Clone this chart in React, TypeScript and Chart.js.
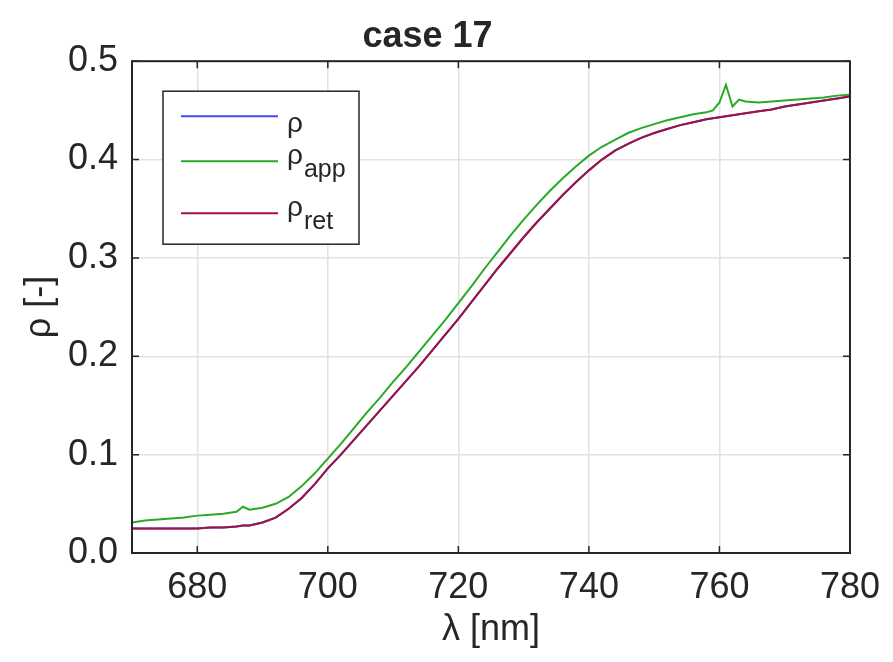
import React, { useEffect, useRef } from "react";
import { Chart, registerables } from "chart.js";

Chart.register(...registerables);

// ---------- data ----------
const wavelengths = [
  670, 672, 674, 676, 678, 680, 682, 684, 686, 687, 688, 690, 692, 694, 696, 698,
  700, 702, 704, 706, 708, 710, 712, 714, 716, 718, 720, 722, 724, 726, 728, 730,
  732, 734, 736, 738, 740, 742, 744, 746, 748, 750, 752, 754, 756, 758, 759, 760,
  761, 762, 763, 764, 766, 768, 770, 772, 774, 776, 778, 780,
];

const rhoApp = [
  0.031, 0.033, 0.034, 0.035, 0.036, 0.038, 0.039, 0.040, 0.042, 0.047, 0.044, 0.046, 0.050, 0.057, 0.068, 0.081,
  0.096, 0.111, 0.127, 0.143, 0.158, 0.174, 0.189, 0.205, 0.221, 0.237, 0.254, 0.271, 0.289, 0.306, 0.323, 0.339,
  0.354, 0.368, 0.381, 0.393, 0.404, 0.413, 0.420, 0.427, 0.432, 0.436, 0.440, 0.443, 0.446, 0.448, 0.450, 0.458,
  0.476, 0.454, 0.461, 0.459, 0.458, 0.459, 0.460, 0.461, 0.462, 0.463, 0.465, 0.466,
];

const rhoRet = [
  0.025, 0.025, 0.025, 0.025, 0.025, 0.025, 0.026, 0.026, 0.027, 0.028, 0.028, 0.031, 0.036, 0.045, 0.056, 0.070,
  0.086, 0.100, 0.115, 0.130, 0.145, 0.160, 0.175, 0.190, 0.206, 0.222, 0.238, 0.255, 0.272, 0.289, 0.305, 0.321,
  0.336, 0.350, 0.364, 0.377, 0.389, 0.400, 0.409, 0.416, 0.422, 0.427, 0.431, 0.435, 0.438, 0.441, 0.442, 0.443,
  0.444, 0.445, 0.446, 0.447, 0.449, 0.451, 0.454, 0.456, 0.458, 0.460, 0.462, 0.464,
];

const rho = [
  0.025, 0.025, 0.025, 0.025, 0.025, 0.025, 0.026, 0.026, 0.027, 0.028, 0.028, 0.031, 0.036, 0.045, 0.056, 0.070,
  0.086, 0.100, 0.115, 0.130, 0.145, 0.160, 0.175, 0.190, 0.206, 0.222, 0.238, 0.255, 0.272, 0.289, 0.305, 0.321,
  0.336, 0.350, 0.364, 0.377, 0.389, 0.400, 0.409, 0.416, 0.422, 0.427, 0.431, 0.435, 0.438, 0.441, 0.442, 0.443,
  0.444, 0.445, 0.446, 0.447, 0.449, 0.451, 0.454, 0.456, 0.458, 0.460, 0.462, 0.464,
];

const xTicks = [680, 700, 720, 740, 760, 780];
const yTicks = [0, 0.1, 0.2, 0.3, 0.4, 0.5];

const titleText = "case 17";
const xLabel = "λ [nm]";
const yLabel = "ρ [-]";
const legendMain = ["ρ", "ρ", "ρ"];
const legendSub = ["", "app", "ret"];

// ---------- styles ----------
const FONT = "'Liberation Sans', Arial, Helvetica, sans-serif";
const AX = "#262626";
const GRID = "#e2e2e2";
const COLORS = ["rgb(70,70,255)", "rgb(40,170,40)", "rgb(160,20,60)"];

const boxPlugin = {
  id: "matlabBox",
  afterDatasetsDraw(chart: any) {
    const { ctx, chartArea } = chart;
    const { left, right, top, bottom } = chartArea;
    const xs = chart.scales.x;
    const ys = chart.scales.y;
    const tl = 7;
    ctx.save();
    ctx.strokeStyle = AX;
    ctx.lineWidth = 1.5;
    ctx.beginPath();
    for (const v of xTicks) {
      const px = xs.getPixelForValue(v);
      ctx.moveTo(px, bottom);
      ctx.lineTo(px, bottom - tl);
      ctx.moveTo(px, top);
      ctx.lineTo(px, top + tl);
    }
    for (const v of yTicks) {
      const py = ys.getPixelForValue(v);
      ctx.moveTo(left, py);
      ctx.lineTo(left + tl, py);
      ctx.moveTo(right, py);
      ctx.lineTo(right - tl, py);
    }
    ctx.stroke();
    ctx.lineWidth = 2;
    ctx.strokeRect(left, top, right - left, bottom - top);
    ctx.restore();
  },
};

const legendPlugin = {
  id: "matlabLegend",
  afterDraw(chart: any) {
    const { ctx, chartArea } = chart;
    const bx = chartArea.left + 31;
    const by = chartArea.top + 30;
    const bw = 196;
    const bh = 153;
    ctx.save();
    ctx.fillStyle = "#ffffff";
    ctx.fillRect(bx, by, bw, bh);
    ctx.strokeStyle = AX;
    ctx.lineWidth = 1.5;
    ctx.strokeRect(bx, by, bw, bh);
    const lineYs = [by + 25, by + 70, by + 122];
    chart.data.datasets.forEach((ds: any, i: number) => {
      const ly = lineYs[i];
      ctx.strokeStyle = ds.borderColor;
      ctx.lineWidth = 2;
      ctx.beginPath();
      ctx.moveTo(bx + 18, ly);
      ctx.lineTo(bx + 115, ly);
      ctx.stroke();
      ctx.fillStyle = AX;
      ctx.textAlign = "left";
      ctx.textBaseline = "alphabetic";
      ctx.font = `28px ${FONT}`;
      const tx = bx + 124;
      const sub = legendSub[i];
      const base = sub ? ly + 3 : ly + 16;
      ctx.fillText(legendMain[i], tx, base);
      if (sub) {
        const w = ctx.measureText(legendMain[i]).width;
        ctx.font = `25px ${FONT}`;
        ctx.fillText(sub, tx + w + 1, base + 13);
      }
    });
    ctx.restore();
  },
};

export default function App() {
  const ref = useRef<HTMLCanvasElement | null>(null);
  useEffect(() => {
    if (!ref.current) return;
    const mk = (vals: number[]) => wavelengths.map((x, i) => ({ x, y: vals[i] }));
    const chart = new Chart(ref.current, {
      type: "line",
      data: {
        datasets: [
          { label: "ρ", data: mk(rho), borderColor: COLORS[0], borderWidth: 2, pointRadius: 0, tension: 0, order: 3 },
          { label: "ρapp", data: mk(rhoApp), borderColor: COLORS[1], borderWidth: 2, pointRadius: 0, tension: 0, order: 2 },
          { label: "ρret", data: mk(rhoRet), borderColor: COLORS[2], borderWidth: 2, pointRadius: 0, tension: 0, order: 1 },
        ],
      },
      options: {
        animation: false,
        responsive: false,
        devicePixelRatio: 1,
        layout: { padding: { left: 0, right: 38, top: 0, bottom: 0 } },
        plugins: {
          legend: { display: false },
          tooltip: { enabled: false },
          title: {
            display: true,
            text: titleText,
            color: AX,
            font: { family: FONT, size: 36, weight: "bold" },
            padding: { top: 15, bottom: 3 },
          },
        },
        scales: {
          x: {
            type: "linear",
            min: 670,
            max: 780,
            afterBuildTicks: (s: any) => {
              s.ticks = xTicks.map((v) => ({ value: v }));
            },
            afterFit: (s: any) => {
              s.height = 109;
            },
            grid: { color: GRID, lineWidth: 1.5, drawTicks: false },
            border: { display: false },
            ticks: {
              padding: 13,
              color: AX,
              font: { family: FONT, size: 36 },
              maxRotation: 0,
              autoSkip: false,
              callback: (v: any) => String(v),
            },
            title: {
              display: true,
              text: xLabel,
              color: AX,
              font: { family: FONT, size: 36 },
              padding: { top: 0, bottom: 10 },
            },
          },
          y: {
            type: "linear",
            min: 0,
            max: 0.5,
            afterBuildTicks: (s: any) => {
              s.ticks = yTicks.map((v) => ({ value: v }));
            },
            afterFit: (s: any) => {
              s.width = 132;
            },
            grid: { color: GRID, lineWidth: 1.5, drawTicks: false },
            border: { display: false },
            ticks: {
              padding: 14,
              color: AX,
              font: { family: FONT, size: 36 },
              callback: (v: any) => Number(v).toFixed(1),
            },
            title: {
              display: true,
              text: yLabel,
              color: AX,
              font: { family: FONT, size: 36 },
              padding: { top: 18, bottom: 0 },
            },
          },
        },
      } as any,
      plugins: [boxPlugin, legendPlugin],
    });
    return () => chart.destroy();
  }, []);
  return (
    <div style={{ position: "absolute", left: 0, top: 0, width: 893, height: 662, background: "#fff" }}>
      <canvas ref={ref} width={893} height={662} style={{ display: "block", width: 893, height: 662 }} />
    </div>
  );
}
